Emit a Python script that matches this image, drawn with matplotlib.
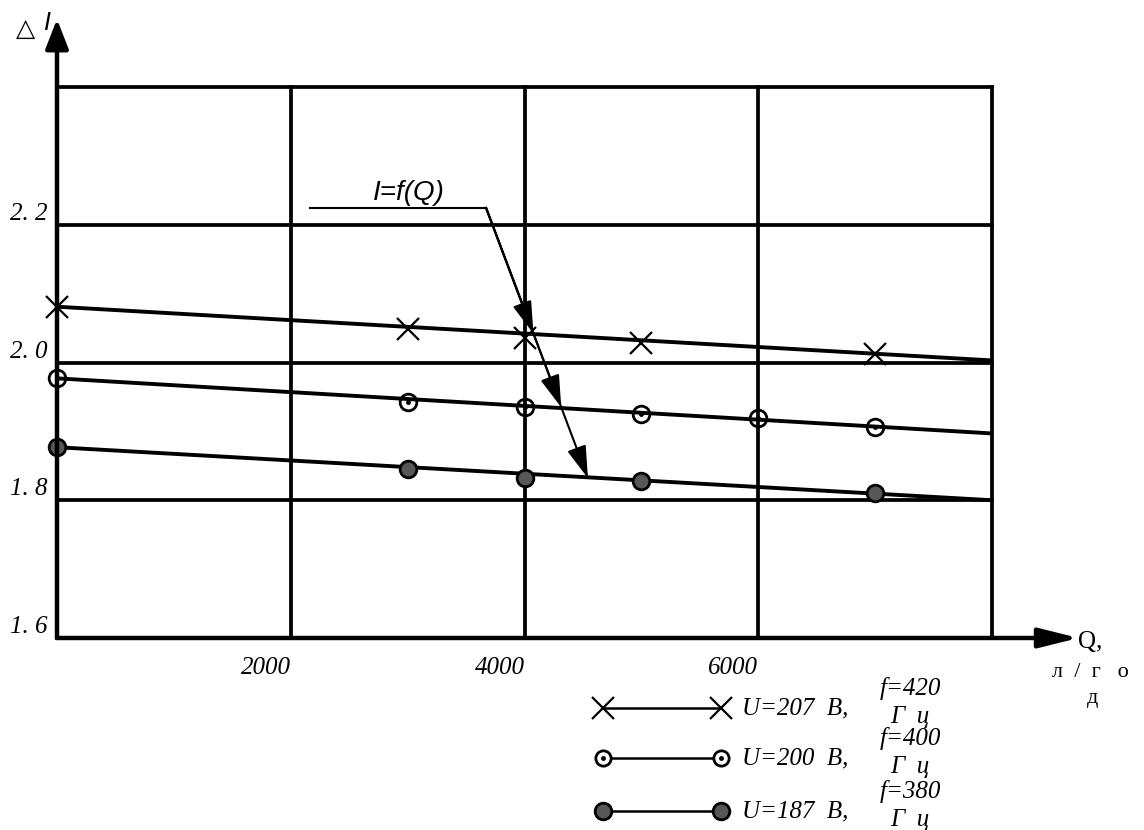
"""Current I versus flow Q for three supply settings, with straight trend lines."""

import matplotlib
matplotlib.use("Agg")
from matplotlib import pyplot as plt

# measured points: Q in l/h, I in A
q_207 = [0, 3000, 4000, 5000, 7000]
i_207 = [2.081, 2.049, 2.035, 2.029, 2.013]
q_200 = [0, 3000, 4000, 5000, 6000, 7000]
i_200 = [1.977, 1.943, 1.935, 1.925, 1.919, 1.907]
q_187 = [0, 3000, 4000, 5000, 7000]
i_187 = [1.877, 1.846, 1.833, 1.828, 1.810]

# trend lines across the full range
trend_q = [0, 8000]
trend_207 = [2.081, 2.003]
trend_200 = [1.977, 1.897]
trend_187 = [1.877, 1.800]

x_grid = [0, 2000, 4000, 6000, 8000]
y_grid = [1.6, 1.8, 2.0, 2.2, 2.4]
x_ticks = [2000, 4000, 6000]
y_ticks = [1.6, 1.8, 2.0, 2.2]
y_tick_labels = ["1. 6", "1. 8", "2. 0", "2. 2"]

legend_u = ["U=207  В,", "U=200  В,", "U=187  В,"]
legend_f = ["f=420", "f=400", "f=380"]

SERIF = "Liberation Serif"
SANS = "Liberation Sans"
W, H = 1144, 830

fig = plt.figure(figsize=(W / 100, H / 100), dpi=100)
fig.patch.set_facecolor("white")
ax = fig.add_axes([57 / W, 192 / H, 935 / W, 551 / H])
ax.set_xlim(0, 8000)
ax.set_ylim(1.6, 2.4)
for s in ax.spines.values():
    s.set_visible(False)

for v in x_grid:
    ax.axvline(v, color="k", lw=2.7, zorder=1, clip_on=False)
for h in y_grid:
    ax.axhline(h, color="k", lw=2.7, zorder=1, clip_on=False)

ax.set_xticks(x_ticks, [str(v) for v in x_ticks])
ax.set_yticks(y_ticks, y_tick_labels)
ax.tick_params(axis="x", length=0, pad=14)
ax.tick_params(axis="y", length=0, pad=7)
for lab in ax.get_xticklabels():
    lab.set_ha("right")
for lab in ax.get_yticklabels():
    lab.set_va("bottom")
for lab in ax.get_xticklabels() + ax.get_yticklabels():
    lab.set_fontfamily(SERIF)
    lab.set_fontstyle("italic")
    lab.set_fontsize(18)

# axis arrows
ax.annotate("", xy=(0, 2.4986), xytext=(0, 1.6), annotation_clip=False,
            arrowprops=dict(arrowstyle="-|>,head_length=0.9,head_width=0.35",
                            mutation_scale=20, lw=3.2, color="k",
                            shrinkA=0, shrinkB=0), zorder=6)
ax.annotate("", xy=(8740, 1.6), xytext=(0, 1.6), annotation_clip=False,
            arrowprops=dict(arrowstyle="-|>,head_length=1.2,head_width=0.3",
                            mutation_scale=20, lw=3.2, color="k",
                            shrinkA=0, shrinkB=0), zorder=6)

# trend lines and points
for ys in (trend_207, trend_200, trend_187):
    ax.plot(trend_q, ys, color="k", lw=2.8, zorder=3)
ax.plot(q_207, i_207, ls="none", marker="x", ms=16, mew=1.6, color="k",
        clip_on=False, zorder=4)
ax.plot(q_200, i_200, ls="none", marker="o", ms=12, mfc="none", mec="k", mew=2,
        clip_on=False, zorder=4)
ax.plot(q_200, i_200, ls="none", marker="o", ms=2.5, color="k", clip_on=False, zorder=4)
ax.plot(q_187, i_187, ls="none", marker="o", ms=12, mfc="#575757", mec="k", mew=2,
        clip_on=False, zorder=4)

# I=f(Q) leader with arrows onto the three curves
corner = (3671, 2.2246)
end = (4543, 1.832)
ax.plot([2165, corner[0]], [corner[1], corner[1]], color="k", lw=1.5, zorder=5)
for t in (0.465, 0.738, 1.0):
    tip = (corner[0] + t * (end[0] - corner[0]), corner[1] + t * (end[1] - corner[1]))
    ax.annotate("", xy=tip, xytext=corner,
                arrowprops=dict(arrowstyle="-|>,head_length=1.0,head_width=0.3",
                                mutation_scale=20, lw=1.5, color="k",
                                shrinkA=0, shrinkB=0), zorder=5)
ax.text(3012, 2.2464, "I=f(Q)", ha="center", va="center", fontfamily=SANS,
        fontstyle="italic", fontsize=20, zorder=5)

# overlay in pixel units for the axis names and the legend
ov = fig.add_axes([0, 0, 1, 1])
ov.set_xlim(0, W)
ov.set_ylim(H, 0)
ov.axis("off")
ov.patch.set_alpha(0)

ov.text(26, 29, "△", ha="center", va="center", fontfamily="DejaVu Sans", fontsize=18)
ov.text(47, 23, "I", ha="center", va="center", fontfamily=SANS, fontstyle="italic",
        fontsize=18)
ov.text(1090, 642, "Q,", ha="center", va="center", fontfamily=SERIF, fontsize=18)
ov.text(1090, 672, "л  /  г   о", ha="center", va="center", fontfamily=SERIF, fontsize=16)
ov.text(1093, 698, "д", ha="center", va="center", fontfamily=SERIF, fontsize=16)

rows = [708, 758, 811]
styles = [
    dict(marker="x", ms=16, mew=1.6),
    dict(marker="o", ms=11, mfc="white", mec="k", mew=2),
    dict(marker="o", ms=12, mfc="#575757", mec="k", mew=2),
]
for i, y in enumerate(rows):
    ov.plot([603, 721], [y, y], color="k", lw=1.8, **styles[i])
    if i == 1:
        ov.plot([603, 721], [y, y], ls="none", marker="o", ms=2.5, color="k")
    ov.text(742, y, legend_u[i], ha="left", va="center", fontfamily=SERIF,
            fontstyle="italic", fontsize=18)
    ov.text(910, y - 20, legend_f[i], ha="center", va="center", fontfamily=SERIF,
            fontstyle="italic", fontsize=18)
    ov.text(910, y + 9, "Г  ц", ha="center", va="center", fontfamily=SERIF,
            fontstyle="italic", fontsize=18)

fig.savefig("out.png", dpi=100)
